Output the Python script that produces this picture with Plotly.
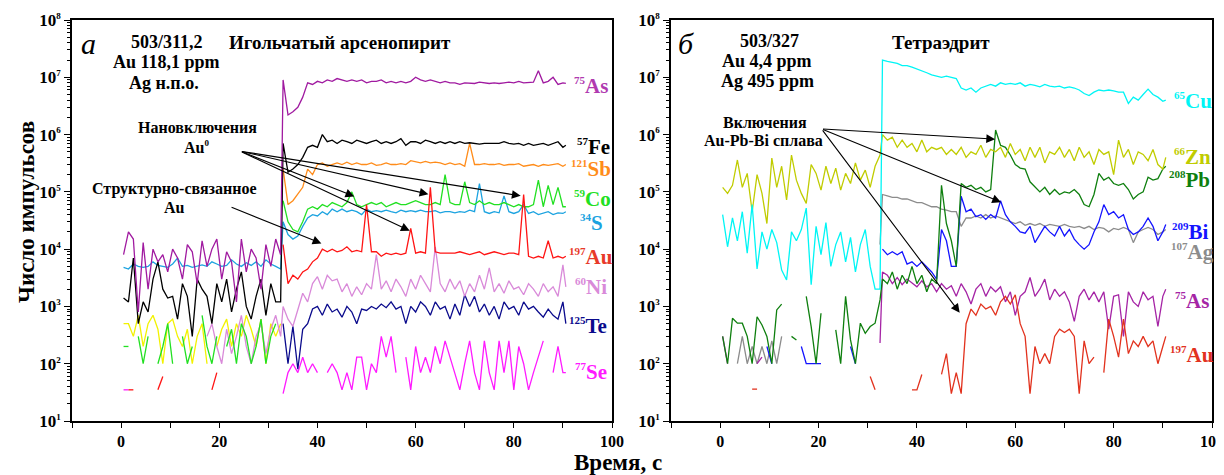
import plotly.graph_objects as go

N = None
# time grids (s): background (gas blank) and ablation part
T_BG = [i + 0.5 for i in range(33)]
T_SIG = list(range(33, 91)) + [90.6]
TIME = T_BG + T_SIG

# ---------------- panel а: 503/311,2 (counts per isotope) ----------------
AS_A = [8e3, 2e4, 1.5e4, 800, 1.3e4, 2e3, 1e4, 6e3, 8e3, 4e3,
        1e4, 7e3, 3e3, 1.2e4, 9e3, 2.5e3, 1.4e4, 5e3, 1e4, 1.5e4,
        3e3, 9e3, 6e3, 1.2e3, 1.5e4, 4e3, 1e4, 7e3, 2e3, 1.2e4,
        5e3, 1.5e4, 8e3] + \
       [9e6, 2.2e6, 2.5e6, 3e6, 4.5e6, 8e6, 7.5e6, 8.5e6, 8e6, 9e6,
        8.5e6, 9.5e6, 9e6, 8.5e6, 9e6, 8.5e6, 9e6, 8e6, 8.5e6, 8.5e6,
        9e6, 8e6, 8.5e6, 8e6, 8.5e6, 8e6, 8.5e6, 1e7, 9e6, 8.5e6,
        9e6, 8.5e6, 8e6, 8.5e6, 8e6, 8e6, 7.5e6, 8e6, 8e6, 7.8e6,
        8.2e6, 8e6, 7.8e6, 8e6, 7.8e6, 8e6, 8.2e6, 8e6, 8.5e6, 8e6,
        8e6, 8.2e6, 1.3e7, 8e6, 8.5e6, 1e7, 7.5e6, 8e6, 7.8e6]
FE_A = [1.4e3, 1.2e3, 7e3, 500, 1.2e3, 800, 3e3, 6e3, 2e3, 1.4e3,
        1.5e3, 600, 2.5e3, 1.5e3, 300, 3e3, 2e3, 1.5e3, 500, 2.5e3,
        1.2e3, 3e3, 800, 2e3, 4e3, 1e3, 600, 1.5e3, 3e3, 700,
        2.5e3, 1.2e3, 1.2e3] + \
       [7e5, 2.2e5, 2.5e5, 3e5, 4e5, 6e5, 6.5e5, 6e5, 1e6, 7.5e5,
        8e5, 7e5, 8e5, 7.5e5, 7e5, 8e5, 7.5e5, 7e5, 7.5e5, 8e5,
        7e5, 7.5e5, 7e5, 7.5e5, 8.5e5, 6.5e5, 7.5e5, 7.5e5, 7e5, 8e5,
        7.5e5, 7e5, 7.5e5, 7e5, 7.5e5, 7e5, 7.5e5, 7e5, 7.2e5, 7e5,
        6.8e5, 7e5, 7e5, 6.8e5, 7e5, 7.5e5, 7e5, 6.8e5, 7e5, 6.5e5,
        7e5, 6.5e5, 6.8e5, 7e5, 6.5e5, 7e5, 7.5e5, 6e5, 6.5e5]
SB_A = [N] * 33 + \
       [2.5e5, 6e4, 7e4, 9e4, 1.2e5, 2.5e5, 2e5, 3e5, 3.2e5, 2.8e5,
        3e5, 3.2e5, 3e5, 3.3e5, 3e5, 3.2e5, 3e5, 3e5, 3.2e5, 2.9e5,
        3e5, 3.2e5, 3e5, 3e5, 3.1e5, 3e5, 3.5e5, 3.3e5, 3.2e5, 3.4e5,
        3.2e5, 3.3e5, 3.2e5, 3e5, 3.2e5, 3e5, 3.1e5, 2.8e5, 7e5, 3e5,
        3e5, 3.1e5, 3e5, 3e5, 3.1e5, 2.9e5, 3e5, 3e5, 3.1e5, 2.8e5,
        2.9e5, 3e5, 2.8e5, 3e5, 2.9e5, 3e5, 3.1e5, 2.8e5, 3e5]
CO_A = [200, 200, N, 300, 100, 300, N, 100, 200, 500,
        100, N, 300, 100, 200, N, 700, 200, 100, 300,
        N, 200, 400, 100, 500, 300, 100, 200, 600, 100,
        300, 500, N] + \
       [7e4, 3e4, 2.2e4, 2e4, 3e4, 5e4, 5.5e4, 5e4, 6e4, 5.5e4,
        6.5e4, 6e4, 5.5e4, 6.5e4, 1e5, 6e4, 5.5e4, 6e4, 6.5e4, 6e4,
        6.5e4, 5.5e4, 6e4, 6.5e4, 6e4, 6e4, 6.5e4, 7e4, 6.5e4, 6e4,
        6e4, 6.5e4, 6e4, 2e5, 6.5e4, 6e4, 6e4, 1.5e5, 6.5e4, 6e4,
        7e4, 6e4, 6.5e4, 6e4, 6e4, 6.5e4, 6e4, 5.5e4, 6e4, 5.5e4,
        5.5e4, 6e4, 1.6e5, 5.5e4, 1.3e5, 6e4, 1.2e5, 5.5e4, 5.5e4]
S_A = [4.8e3, 4.5e3, 5.5e3, 5e3, 4.8e3, 5e3, 6e3, 5.2e3, 5e3, 4.8e3,
       5.5e3, 7e3, 5e3, 5.2e3, 4.8e3, 5e3, 5.3e3, 5e3, 6e3, 5.5e3,
       5e3, 5.2e3, 6.5e3, 5.5e3, 5e3, 5.8e3, 5.2e3, 6e3, 5e3, 6.5e3,
       5.5e3, 5e3, 4.5e3] + \
      [3e4, 1.8e4, 1.5e4, 1.7e4, 2.5e4, 3.5e4, 4e4, 3.8e4, 4.5e4, 4e4,
       5e4, 4.5e4, 5e4, 4.5e4, 4.8e4, 4.5e4, 4e4, 5e4, 4.5e4, 4.7e4,
       4.5e4, 4.8e4, 4.5e4, 4.3e4, 4.8e4, 4.5e4, 4.7e4, 4.5e4, 4.8e4, 4.5e4,
       4.5e4, 4.7e4, 4.3e4, 4.5e4, 4.5e4, 4.3e4, 4.5e4, 4.4e4, 4.8e4, 4.5e4,
       1.4e5, 4.5e4, 4.2e4, 4.5e4, 4.3e4, 8.5e4, 4.5e4, 4.2e4, 4.5e4, 6e4,
       4.2e4, 4.5e4, 4e4, 4.3e4, 4.5e4, 4e4, 4.3e4, 4.2e4, 4.5e4]
AU_A = [N, 35, 35, N, N, N, N, 35, 60, N,
        N, N, N, N, N, N, N, N, 35, 70,
        N, N, N, N, N, N, N, N, N, N,
        N, N, N] + \
       [1.2e4, 2.5e3, 3.5e3, 3e3, 4e3, 4.5e3, 6e3, 7e3, 1e4, 9e3,
        1e4, 9e3, 9.5e3, 1.1e4, 9e3, 9.5e3, 9e3, 6e4, 9e3, 9e3,
        7.5e3, 8.5e3, 8e3, 8.5e3, 8e3, 8.5e3, 2.3e4, 8.5e3, 9e3, 8.5e3,
        1.2e5, 9e3, 8.5e3, 8.5e3, 8.5e3, 8.5e3, 9e3, 8.5e3, 8e3, 8.5e3,
        9e3, 8e3, 8.5e3, 9e3, 8.5e3, 8e3, 8.5e3, 8.5e3, 8e3, 9e4,
        7.5e3, 7e3, 7.5e3, 7e3, 1.4e4, 7e3, 7.5e3, 7e3, 7.5e3]
NI_A = [N] * 15 + [150, N, 300, 500, 200,
        100, 400, 150, 300, 700, 200, 100, 300, 500, 150,
        400, 700, 300] + \
       [1e3, 600, 450, 900, 1.7e3, 1.2e3, 2.5e3, 3.3e3, 2e3, 3.5e3,
        2.8e3, 3e3, 1.8e3, 2.5e3, 1.5e3, 2.2e3, 1.6e3, 2.5e3, 2e3, 8e3,
        2e3, 2.8e3, 1.8e3, 3e3, 2.2e3, 1.5e3, 3e3, 2e3, 3.5e3, 2.5e3,
        1.8e3, 1.1e4, 2.5e3, 1.8e3, 3e3, 2e3, 2.8e3, 1.5e3, 2.5e3, 1.8e3,
        3.5e3, 2e3, 4.7e3, 1.8e3, 2.5e3, 1.7e3, 2.8e3, 2e3, 2.2e3, 1.6e3,
        2.5e3, 2e3, 1.5e3, 2.5e3, 1.8e3, 2.2e3, 1.5e3, 5.3e3, 2.2e3]
TE_A = [N] * 33 + \
       [500, 100, 450, 80, 400, 500, 900, 1e3, 700, 1.1e3,
        800, 900, 650, 1e3, 800, 500, 900, 850, 1e3, 900,
        1.1e3, 950, 1.2e3, 900, 1e3, 500, 1e3, 800, 1.2e3, 1e3,
        700, 1.2e3, 900, 1e3, 600, 1.1e3, 700, 1.6e3, 1e3, 1.5e3,
        800, 1.1e3, 700, 1e3, 600, 1.2e3, 900, 1e3, 700, 1.2e3,
        900, 1e3, 800, 650, 900, 700, 600, 1.2e3, 500]
SE_A = [35, 35] + [N] * 31 + \
       [30, 70, 100, 70, 130, 70, 100, 70, N, 70,
        100, 70, 35, 70, 35, 130, 130, 35, 100, 70,
        300, 130, 300, 70, N, 130, 35, 200, 70, 130,
        70, 200, 100, 250, 130, 70, 35, 100, 250, 70,
        35, 250, 70, 35, 250, 70, 250, 35, 200, 100,
        35, 70, 130, 250, N, 70, 200, 70, 70]
YEL_A = [500, 500, 300, 700, 200, 500, 700, 400, 100, 500,
         600, 300, 200, 400, 100, 300, 500, 100, N, 200,
         400, 600, 200, 500, 300, 700, 400, 200, 600, 100,
         500, 300, 500] + [N] * 59

# ---------------- panel б: 503/327 ----------------
CU_B = [4e4, 1.1e4, 3.5e4, 1.4e4, 4.5e4, 8.5e3, 6e4, 4.5e3, 2e4, 1e4,
        2.2e4, 1.3e4, 4.3e3, 2.9e3, 2e4, 1.4e4, 2.2e4, 5.2e4, 2.4e3, 2.5e4,
        8e3, 2.9e4, 5e3, 1.2e4, 2e4, 6e3, 1.6e4, 4e3, 1.2e4, 2.2e4,
        5e3, 2e3, 2e3] + \
       [2e7, 1.9e7, 1.8e7, 1.75e7, 1.6e7, 1.6e7, 1.5e7, 1.4e7, 1.3e7, 1.2e7,
        1.1e7, 1.05e7, 1e7, 1.05e7, 1e7, 9.5e6, 6.5e6, 6e6, 6.5e6, 5.5e6,
        6.5e6, 7e6, 7.5e6, 7e6, 8e6, 7.5e6, 7.8e6, 7.5e6, 8e6, 7e6,
        7.5e6, 7.2e6, 6.8e6, 7.5e6, 7e6, 6.8e6, 7e6, 6.5e6, 6.8e6, 6.5e6,
        6e6, 5.2e6, 4.8e6, 5.5e6, 6e6, 5.8e6, 6e6, 5.8e6, 5.5e6, 5.5e6,
        3.5e6, 4.5e6, 4e6, 5e6, 6.2e6, 5e6, 4.5e6, 3.8e6, 4e6]
ZN_B = [1.2e5, 9.4e4, 1.3e5, 3.6e5, 1.2e5, 2.1e5, 4.5e4, 2e5, 9.4e4, 2.8e4,
        3.9e5, 1.2e5, 2.8e5, 7.2e4, 4.4e5, 1.6e5, 9.4e4, 6.3e4, 3e5, 2.1e5,
        1.07e5, 2.8e5, 1.4e5, 2.6e5, 1.07e5, 2.1e5, 1.4e5, 3.2e5, 1.6e5, 2.4e5,
        1.2e5, 2.8e5, 4.4e5] + \
       [1e6, 8e5, 9e5, 6e5, 8e5, 6e5, 7e5, 5e5, 8e5, 5e5,
        6e5, 5.5e5, 6e5, 4.5e5, 5.5e5, 4.5e5, 6e5, 4e5, 5e5, 4.5e5,
        6.5e5, 4e5, 5.5e5, 5e5, 6e5, 4e5, 7e5, 4.5e5, 5.5e5, 3.5e5,
        6e5, 4e5, 6e5, 3.2e5, 5e5, 4.5e5, 6e5, 4e5, 5.5e5, 3.5e5,
        6e5, 4e5, 5e5, 3e5, 5.5e5, 4.5e5, 5e5, 2e5, 8e5, 4e5,
        5.5e5, 3e5, 5e5, 4.5e5, 3.5e5, 5.5e5, 3e5, 2.5e5, 4e5]
PB_B = [300, 100, 620, 510, 510, 300, 100, 660, 475, 300,
        100, 870, 1.1e3, N, 300, 260, N, 1.5e3, 445, 100,
        760, N, N, 390, 100, 1.5e3, 260, 100, 510, 340,
        445, 510, 1.3e3] + \
       [3e3, 2.5e3, 4e3, 2e3, 3.5e3, 2.5e3, 5e3, 2.5e3, 3.5e3, 1.8e3,
        3e3, 2.5e3, 1.3e5, 2.8e4, 1.4e4, 5e3, 1.4e5, 1.2e5, 1.3e5, 1.1e5,
        1.2e5, 1e5, 1.1e5, 1.2e6, 6.5e5, 6e5, 4.4e5, 3e5, 2.6e5, 2.5e5,
        1.5e5, 1.2e5, 1e5, 1.2e5, 9e4, 1.1e5, 9e4, 1e5, 9.5e4, 1.1e5,
        9e4, 6e4, 5.5e4, 9e4, 2.1e5, 1.6e5, 1.8e5, 1.4e5, 1.3e5, 1.4e5,
        1.1e5, 7.5e4, 9e4, 1e5, 1.8e5, 1.6e5, 1.7e5, 2.5e5, 2.8e5]
BI_B = [N, N, N, N, N, N, N, N, N, 200,
        100, N, N, N, N, N, 200, 100, 100, 100,
        100, N, N, N, N, N, 200, 100, N, N,
        N, N, N] + \
       [1e4, 8e3, 9e3, 8e3, 9e3, 5.5e3, 6e3, 5e3, 6e3, 5e3,
        4e3, 3e3, 2.2e4, 1.4e4, 5e3, 5e3, 8.4e4, 4.5e4, 5e4, 3.7e4,
        4e4, 3.3e4, 4e4, 3.5e4, 7e4, 4e4, 3e4, 2.5e4, 2e4, 1.9e4,
        2.5e4, 1.3e4, 1.8e4, 2.5e4, 2e4, 1.7e4, 2.5e4, 1.7e4, 2.2e4, 1.5e4,
        1.2e4, 1e4, 1.2e4, 2e4, 3e4, 6e4, 4e4, 4.5e4, 3.5e4, 4e4,
        2.2e4, 1.8e4, 2e4, 2.5e4, 3.5e4, 2.5e4, 1.4e4, 2e4, 2.7e4]
AG_B = [N, N, N, 100, 300, 100, 200, 100, 200, 100,
        250, 100, 300, N, N, N, N, N, N, N,
        N, N, N, N, N, N, N, N, N, N,
        N, N, 1.2e4] + \
       [9e4, 8.5e4, 8e4, 8e4, 7.5e4, 7.5e4, 7e4, 6.5e4, 6.5e4, 6e4,
        5.5e4, 5.5e4, 5e4, 4.8e4, 4.5e4, 4.5e4, 2.5e4, 3.5e4, 3.5e4, 3.8e4,
        3.5e4, 4e4, 3.5e4, 3.8e4, 3.5e4, 3.2e4, 3e4, 2.8e4, 3e4, 2.6e4,
        2.8e4, 2.6e4, 2.8e4, 2.5e4, 2.7e4, 2.6e4, 2.5e4, 2.7e4, 2.5e4, 2.4e4,
        2.5e4, 2.3e4, 2.5e4, 2.2e4, 2.4e4, 2.3e4, 2e4, 2.3e4, 2.2e4, 2.4e4,
        2.2e4, 1.3e4, 2e4, 2.2e4, 2.4e4, 2.2e4, 1.8e4, 2e4, 2.2e4]
AS_B = [300, 100, N, N, N, N, N, 100, 130, N] + [N] * 22 + [230] + \
       [4e3, 3.5e3, 2.5e3, 3.2e3, 2.4e3, 3e3, 2.6e3, 2.2e3, 2.8e3, 2.2e3,
        2.5e3, 1.8e3, 2.5e3, 2e3, 2.3e3, 1.5e3, 2.5e3, 1.8e3, 1.1e3, 2e3,
        2.5e3, 1.5e3, 2.2e3, 1.8e3, 2.2e3, 1.2e3, 1.8e3, 700, 1.5e3, 1.8e3,
        3.2e3, 1.5e3, 2e3, 3e3, 1.3e3, 2e3, 1.5e3, 1.8e3, 1.2e3, 550,
        1.5e3, 2e3, 1.3e3, 1.8e3, 1.2e3, 1.8e3, 400, 1.5e3, 1.6e3, 300,
        1.8e3, 1.2e3, 1e3, 1.8e3, 1.3e3, 1.5e3, 450, 1.5e3, 2e3]
AU_B = [N, N, N, N, N, N, 36, 36, N, N] + [N] * 20 + [60, 35, N] + \
       [N, N, N, N, N, N, 35, 35, 65, N,
        N, N, 65, 150, 30, 70, 30, 500, 900, 700,
        1.1e3, 900, 1e3, 700, 1.2e3, 1.5e3, 1.1e3, 1.6e3, 500, 300,
        30, 200, 100, 150, 100, 300, 400, 350, 400, 300,
        30, 250, 100, 130, N, 70, 600, 300, 130, 600,
        150, 250, 200, 300, 200, 250, 100, 200, 300]

FONT = "Liberation Serif"
OFF = 8                      # page body margin of the html page
W, H = 1224 - OFF, 475 - OFF


def px(x):
    return (x - OFF) / W


def py(y):
    return 1 - (y - OFF) / H


def sup(s, size):
    return f'<sup><span style="font-size:{size}px">{s}</span></sup>'


LEFT = [
    ("Yellow", YEL_A, "#F2F200"), ("Se", SE_A, "#FF1AFF"), ("Te", TE_A, "#0A0A8C"),
    ("Ni", NI_A, "#D98AD9"), ("S", S_A, "#1CA3E0"), ("Co", CO_A, "#22E022"),
    ("Sb", SB_A, "#FF8C1A"), ("Fe", FE_A, "#000000"), ("As", AS_A, "#A01AA0"),
    ("Au", AU_A, "#FF1414"),
]
RIGHT = [
    ("Ag", AG_B, "#8C8C8C"), ("As", AS_B, "#A524A5"), ("Au", AU_B, "#E2321E"),
    ("Bi", BI_B, "#1414FF"), ("Pb", PB_B, "#0E7F0E"), ("Zn", ZN_B, "#C0CC00"),
    ("Cu", CU_B, "#00F5F5"),
]

fig = go.Figure()
for name, vals, col in LEFT:
    if len(vals) != len(TIME):
        raise ValueError(f"left {name}: {len(vals)}")
    fig.add_trace(go.Scatter(x=TIME, y=vals, mode="lines", name=name,
                             line=dict(color=col, width=1.3), xaxis="x", yaxis="y",
                             connectgaps=False, showlegend=False))
for name, vals, col in RIGHT:
    if len(vals) != len(TIME):
        raise ValueError(f"right {name}: {len(vals)}")
    fig.add_trace(go.Scatter(x=TIME, y=vals, mode="lines", name=name,
                             line=dict(color=col, width=1.3), xaxis="x2", yaxis="y2",
                             connectgaps=False, showlegend=False))

XT = list(range(-10, 101, 10))
XTT = ["" if v % 20 else f"<b>{v}</b>" for v in XT]
YT = [10 ** k for k in range(1, 9)]
YTT = [f"<b>10{sup(k, 9)}</b>" for k in range(1, 9)]
YMINOR = [m * 10 ** k for k in range(1, 8) for m in range(2, 10)]

YDOM = [py(421), py(20)]


def xax(dom, anchor):
    return dict(domain=dom, anchor=anchor, range=[-10, 100], tickvals=XT, ticktext=XTT,
                ticks="outside", ticklen=5, tickwidth=1.2, tickcolor="black",
                showline=True, linewidth=1.5, linecolor="black", mirror=True,
                showgrid=False, zeroline=False, automargin=False,
                tickfont=dict(family=FONT, size=16, color="black"))


def yax(anchor):
    return dict(domain=YDOM, anchor=anchor, type="log", range=[1, 8], tickvals=YT,
                ticktext=YTT, ticks="outside", ticklen=6, tickwidth=1.2, tickcolor="black",
                minor=dict(tickvals=YMINOR, ticks="outside", ticklen=3, tickwidth=1,
                           tickcolor="black", showgrid=False),
                showline=True, linewidth=1.5, linecolor="black", mirror=True,
                showgrid=False, zeroline=False, automargin=False,
                tickfont=dict(family=FONT, size=17, color="black"))


ann = []


def txt(x, y, s, size=18, color="black", xanchor="center", italic=False, bold=True, angle=0):
    t = f"<b>{s}</b>" if bold else s
    if italic:
        t = f"<i>{t}</i>"
    ann.append(dict(xref="paper", yref="paper", x=px(x), y=py(y), text=t, showarrow=False,
                    xanchor=xanchor, yanchor="middle", textangle=angle,
                    font=dict(family=FONT, size=size, color=color)))


# panel а texts
txt(88, 43, "а", size=30, italic=True, bold=False)
txt(167, 42, "503/311,2")
txt(340, 42, "Игольчатый арсенопирит", size=19)
txt(166, 62, "Au 118,1 ppm")
txt(164, 83, "Ag н.п.о.")
txt(197, 128, "Нановключения", size=16)
txt(196, 147, "Au" + sup(0, 9), size=16)
txt(174, 189, "Структурно-связанное", size=16)
txt(174, 207, "Au", size=16)
# panel б texts
txt(686, 43, "б", size=30, italic=True, bold=False)
txt(769, 41, "503/327")
txt(941, 42, "Тетраэдрит", size=19)
txt(767, 61, "Au 4,4 ppm")
txt(767, 81, "Ag 495 ppm")
txt(765, 123, "Включения", size=16)
txt(763, 141, "Au-Pb-Bi сплава", size=16)
# axis titles
txt(618, 462, "Время, с", size=23)
txt(27, 212, "Число импульсов", size=23, angle=-90)

# isotope labels
LAB_A = [("75", "As", "#B03AB0", 572, 86), ("57", "Fe", "#000000", 575, 147),
         ("121", "Sb", "#FF8C1A", 569, 169), ("59", "Co", "#22E022", 572, 199),
         ("34", "S", "#1CA3E0", 578, 223), ("197", "Au", "#E83A2A", 567, 257),
         ("60", "Ni", "#D98AD9", 573, 287), ("125", "Te", "#0A0A8C", 567, 326),
         ("77", "Se", "#FF1AFF", 573, 372)]
LAB_B = [("65", "Cu", "#00F5F5", 1172, 101), ("66", "Zn", "#C0CC00", 1172, 157),
         ("208", "Pb", "#0E7F0E", 1167, 180), ("209", "Bi", "#1414FF", 1170, 232),
         ("107", "Ag", "#8C8C8C", 1169, 252), ("75", "As", "#A524A5", 1173, 301),
         ("197", "Au", "#E2321E", 1168, 355)]
for iso, el, col, x, y in LAB_A + LAB_B:
    txt(x, y, sup(iso, 11) + el, size=21, color=col, xanchor="left")

# arrows (head -> tail) in data coordinates (log10 for y)
ARROWS_A = [((47.5, 4.92), (24.3, 5.71)), ((62.6, 4.96), (24.3, 5.71)),
            ((81.4, 4.93), (24.3, 5.71)), ((58.8, 4.32), (24.3, 5.71)),
            ((40.8, 4.10), (22.2, 4.74))]
ARROWS_B = [((55.9, 5.92), (20.6, 6.10)), ((57.1, 4.82), (20.6, 6.10)),
            ((48.7, 2.89), (20.6, 6.10))]
for arrs, xr, yr in ((ARROWS_A, "x", "y"), (ARROWS_B, "x2", "y2")):
    for (hx, hy), (tx, ty) in arrs:
        ann.append(dict(xref=xr, yref=yr, x=hx, y=hy, axref=xr, ayref=yr, ax=tx, ay=ty,
                        text="", showarrow=True, arrowhead=2, arrowsize=1.6,
                        arrowwidth=1.1, arrowcolor="black", standoff=0))

fig.update_layout(
    width=W, height=H, margin=dict(l=0, r=0, t=0, b=0),
    paper_bgcolor="white", plot_bgcolor="white",
    font=dict(family=FONT, color="black"),
    xaxis=xax([px(72), px(612)], "y"), yaxis=yax("x"),
    xaxis2=xax([px(671), px(1212)], "y2"), yaxis2=yax("x2"),
    annotations=ann, showlegend=False,
)
fig.write_html("out.html")
